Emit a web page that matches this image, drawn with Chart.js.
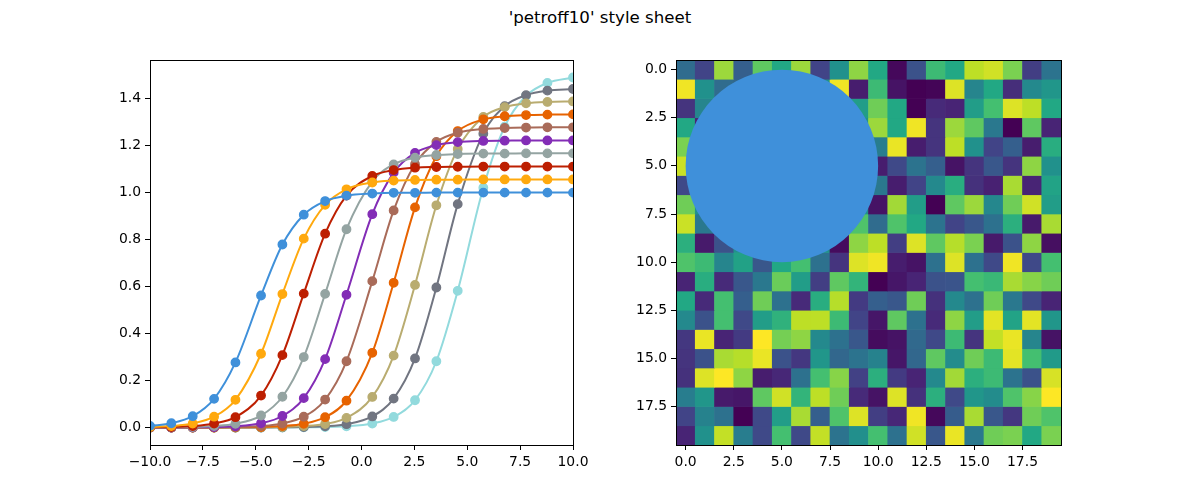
<!DOCTYPE html>
<html>
<head>
<meta charset="utf-8">
<script src="https://cdn.jsdelivr.net/npm/chart.js@4.4.1/dist/chart.umd.min.js"></script>
<style>
  body { margin: 0; background: #fff; }
  #wrap { position: relative; width: 1200px; height: 500px; font-family: "DejaVu Sans", sans-serif; }
  #title { position: absolute; top: 8px; left: 0; width: 1200px; text-align: center; font-size: 16.67px; color: #000; }
  #lines { position: absolute; left: 0; top: 0; }
  #image { position: absolute; left: 600px; top: 0; }
</style>
</head>
<body>
<div id="wrap">
  <div id="title">'petroff10' style sheet</div>
  <canvas id="lines" width="600" height="500"></canvas>
  <canvas id="image" width="600" height="500"></canvas>
</div>
<script>
// left panel: x positions of the markers, shared by all curves
const tVals = [-10, -8.99, -7.98, -6.97, -5.96, -4.75, -3.74, -2.73, -1.72, -0.71,
               0.51, 1.52, 2.53, 3.54, 4.55, 5.76, 6.77, 7.78, 8.79, 10];

const curve0 = [0.007, 0.018, 0.048, 0.122, 0.277, 0.562, 0.779, 0.906, 0.964, 0.987, 0.996, 0.999, 0.999, 1.0, 1.0, 1.0, 1.0, 1.0, 1.0, 1.0];
const curve1 = [0.002, 0.006, 0.017, 0.046, 0.118, 0.314, 0.568, 0.804, 0.948, 1.014, 1.043, 1.051, 1.054, 1.055, 1.055, 1.056, 1.056, 1.056, 1.056, 1.056];
const curve2 = [0.001, 0.002, 0.006, 0.017, 0.044, 0.136, 0.308, 0.570, 0.825, 0.987, 1.071, 1.096, 1.106, 1.109, 1.110, 1.111, 1.111, 1.111, 1.111, 1.111];
const curve3 = [0.0, 0.001, 0.002, 0.006, 0.016, 0.051, 0.131, 0.300, 0.569, 0.844, 1.047, 1.120, 1.149, 1.160, 1.164, 1.166, 1.166, 1.167, 1.167, 1.167];
const curve4 = [0.0, 0.0, 0.001, 0.002, 0.005, 0.018, 0.049, 0.125, 0.291, 0.565, 0.908, 1.085, 1.169, 1.202, 1.215, 1.220, 1.221, 1.222, 1.222, 1.222];
const curve5 = [0.0, 0.0, 0.0, 0.001, 0.002, 0.006, 0.017, 0.046, 0.119, 0.282, 0.623, 0.924, 1.121, 1.216, 1.255, 1.271, 1.275, 1.277, 1.278, 1.278];
const curve6 = [0.0, 0.0, 0.0, 0.0, 0.001, 0.002, 0.006, 0.016, 0.044, 0.114, 0.318, 0.616, 0.937, 1.155, 1.262, 1.312, 1.325, 1.330, 1.332, 1.333];
const curve7 = [0.0, 0.0, 0.0, 0.0, 0.0, 0.001, 0.002, 0.006, 0.015, 0.041, 0.130, 0.306, 0.607, 0.946, 1.186, 1.322, 1.364, 1.380, 1.386, 1.388];
const curve8 = [0.0, 0.0, 0.0, 0.0, 0.0, 0.0, 0.001, 0.002, 0.005, 0.014, 0.047, 0.123, 0.294, 0.596, 0.951, 1.251, 1.368, 1.415, 1.434, 1.441];
const curve9 = [0.0, 0.0, 0.0, 0.0, 0.0, 0.0, 0.0, 0.001, 0.002, 0.005, 0.017, 0.045, 0.116, 0.282, 0.582, 1.021, 1.281, 1.412, 1.467, 1.490];

const petroff10 = ['#3f90da', '#ffa90e', '#bd1f01', '#94a4a2', '#832db6',
                   '#a96b59', '#e76300', '#b9ac70', '#717581', '#92dadd'];

const lineXTicks = [-10, -7.5, -5, -2.5, 0, 2.5, 5, 7.5, 10];
const lineXLabels = ['\u221210.0', '\u22127.5', '\u22125.0', '\u22122.5', '0.0', '2.5', '5.0', '7.5', '10.0'];
const lineYTicks = [0, 0.2, 0.4, 0.6, 0.8, 1.0, 1.2, 1.4];
const lineYLabels = ['0.0', '0.2', '0.4', '0.6', '0.8', '1.0', '1.2', '1.4'];

// right panel: 20x20 image, row by row (cells under the circle are not visible, 0.5 there)
const row00 = [0.35, 0.2, 0.85, 0.3, 0.75, 0.6, 0.85, 0.2, 0.5, 0.83, 0.6, 0.02, 0.25, 0.68, 0.6, 0.9, 0.93, 0.8, 0.18, 0.38];
const row01 = [0.98, 0.5, 0.35, 0.33, 0.5, 0.5, 0.5, 0.5, 0.98, 0.08, 0.68, 0.05, 0.0, 0.01, 0.95, 0.45, 0.6, 0.13, 0.47, 0.52];
const row02 = [0.15, 0.45, 0.5, 0.5, 0.5, 0.5, 0.5, 0.5, 0.5, 0.55, 0.78, 0.6, 0.0, 0.12, 0.1, 0.55, 0.7, 0.95, 0.9, 0.6];
const row03 = [0.6, 0.1, 0.5, 0.5, 0.5, 0.5, 0.5, 0.5, 0.5, 0.5, 0.85, 0.6, 0.98, 0.15, 0.85, 0.75, 0.4, 0.0, 0.75, 0.1];
const row04 = [0.8, 0.5, 0.5, 0.5, 0.5, 0.5, 0.5, 0.5, 0.5, 0.5, 0.42, 0.97, 0.08, 0.15, 0.9, 0.5, 0.2, 0.3, 0.08, 0.62];
const row05 = [0.92, 0.5, 0.5, 0.5, 0.5, 0.5, 0.5, 0.5, 0.5, 0.5, 0.08, 0.22, 0.38, 0.3, 0.05, 0.15, 0.27, 0.15, 0.83, 0.5];
const row06 = [0.22, 0.5, 0.5, 0.5, 0.5, 0.5, 0.5, 0.5, 0.5, 0.5, 0.4, 0.08, 0.2, 0.47, 0.62, 0.14, 0.09, 0.87, 0.1, 0.58];
const row07 = [0.78, 0.5, 0.5, 0.5, 0.5, 0.5, 0.5, 0.5, 0.5, 0.5, 0.05, 0.86, 0.55, 0.0, 0.75, 0.85, 0.46, 0.78, 0.93, 0.55];
const row08 = [0.92, 0.4, 0.5, 0.5, 0.5, 0.5, 0.5, 0.5, 0.5, 0.72, 0.35, 0.72, 0.6, 0.38, 0.2, 0.27, 0.37, 0.63, 0.07, 0.87];
const row09 = [0.63, 0.07, 0.25, 0.5, 0.5, 0.5, 0.5, 0.5, 0.03, 0.83, 0.9, 0.18, 0.95, 0.75, 0.89, 0.8, 0.07, 0.25, 0.83, 0.04];
const row10 = [0.72, 0.68, 0.45, 0.57, 0.27, 0.6, 0.7, 0.37, 0.15, 0.95, 0.98, 0.08, 0.05, 0.37, 0.95, 0.37, 0.22, 0.98, 0.22, 0.7];
const row11 = [0.1, 0.62, 0.12, 0.27, 0.4, 0.77, 0.55, 0.18, 0.75, 0.65, 0.0, 0.06, 0.1, 0.25, 0.26, 0.7, 0.67, 0.87, 0.82, 0.78];
const row12 = [0.6, 0.12, 0.7, 0.3, 0.78, 0.37, 0.12, 0.62, 0.89, 0.17, 0.3, 0.27, 0.78, 0.14, 0.47, 0.37, 0.78, 0.4, 0.22, 0.1];
const row13 = [0.47, 0.25, 0.7, 0.22, 0.55, 0.64, 0.9, 0.9, 0.68, 0.2, 0.06, 0.75, 0.37, 0.12, 0.83, 0.55, 0.96, 0.58, 0.96, 0.52];
const row14 = [0.16, 0.97, 0.1, 0.17, 1.0, 0.79, 0.83, 0.47, 0.37, 0.27, 0.03, 0.05, 0.34, 0.22, 0.68, 0.15, 0.91, 0.97, 0.45, 0.05];
const row15 = [0.15, 0.25, 0.87, 0.89, 0.97, 0.25, 0.16, 0.52, 0.33, 0.38, 0.44, 0.06, 0.33, 0.75, 0.48, 0.78, 0.68, 0.96, 0.7, 0.54];
const row16 = [0.14, 0.95, 1.0, 0.83, 0.08, 0.11, 0.37, 0.7, 0.82, 0.19, 0.63, 0.17, 0.1, 0.47, 0.86, 0.63, 0.68, 0.38, 0.25, 0.94];
const row17 = [0.42, 0.52, 0.07, 0.06, 0.75, 0.93, 0.65, 0.9, 0.78, 0.12, 0.05, 0.95, 0.14, 0.63, 0.22, 0.52, 0.48, 0.72, 0.82, 1.0];
const row18 = [0.2, 0.44, 0.37, 0.0, 0.22, 0.55, 0.87, 0.3, 0.72, 0.95, 0.18, 0.11, 0.98, 0.02, 0.29, 0.87, 0.27, 0.16, 0.78, 0.72];
const row19 = [0.1, 0.5, 0.91, 0.42, 0.22, 0.7, 0.22, 0.91, 0.38, 0.49, 0.7, 0.37, 0.93, 0.27, 0.97, 0.4, 0.78, 0.8, 0.6, 0.8];

const circleCenter = [5, 5];
const circleRadius = 5;

const imgTicks = [0, 2.5, 5, 7.5, 10, 12.5, 15, 17.5];
const imgLabels = ['0.0', '2.5', '5.0', '7.5', '10.0', '12.5', '15.0', '17.5'];

// ---------------------------------------------------------------

const viridisStops = ['#440154', '#482475', '#414487', '#355f8d', '#2a788e', '#21918c',
                      '#22a884', '#44bf70', '#7ad151', '#bddf26', '#fde725'];

function hexRgb(h) {
  return [parseInt(h.slice(1, 3), 16), parseInt(h.slice(3, 5), 16), parseInt(h.slice(5, 7), 16)];
}

function viridis(v) {
  v = Math.min(1, Math.max(0, v));
  const p = v * (viridisStops.length - 1);
  const i = Math.min(Math.floor(p), viridisStops.length - 2);
  const f = p - i;
  const a = hexRgb(viridisStops[i]), b = hexRgb(viridisStops[i + 1]);
  const c = a.map((x, k) => Math.round(x + (b[k] - x) * f));
  return 'rgb(' + c.join(',') + ')';
}

Chart.defaults.font.family = '"DejaVu Sans", sans-serif';
Chart.defaults.color = '#000';

// black box round the axes, like matplotlib spines
const frame = {
  id: 'frame',
  afterDraw(chart) {
    const { ctx, chartArea: a } = chart;
    ctx.save();
    ctx.strokeStyle = '#000';
    ctx.lineWidth = 1;
    ctx.strokeRect(a.left + 0.5, a.top + 0.5, a.right - a.left, a.bottom - a.top);
    ctx.restore();
  }
};

function axis(min, max, tickVals, tickLabels, extra) {
  return Object.assign({
    type: 'linear',
    min: min,
    max: max,
    offset: false,
    afterBuildTicks: s => { s.ticks = tickVals.map(v => ({ value: v })); },
    ticks: {
      callback: (v, i) => tickLabels[i],
      color: '#000',
      font: { size: 13.9 },
      padding: 4,
      autoSkip: false,
      maxRotation: 0
    },
    grid: { display: true, offset: false, drawOnChartArea: false, drawTicks: true, tickLength: 5, color: '#000', lineWidth: 1 },
    border: { display: false }
  }, extra);
}

const curves = [curve0, curve1, curve2, curve3, curve4, curve5, curve6, curve7, curve8, curve9];

new Chart(document.getElementById('lines'), {
  type: 'line',
  data: {
    datasets: curves.map((c, k) => ({
      data: tVals.map((t, i) => ({ x: t, y: c[i] })),
      borderColor: petroff10[k],
      backgroundColor: petroff10[k],
      borderWidth: 2,
      cubicInterpolationMode: 'monotone',
      pointRadius: 4.2,
      pointBorderWidth: 1.4,
      pointBorderColor: petroff10[k],
      pointBackgroundColor: petroff10[k]
    }))
  },
  options: {
    responsive: false,
    animation: false,
    devicePixelRatio: 1,
    layout: { padding: { left: 100, right: 27, top: 60, bottom: 15 } },
    plugins: { legend: { display: false }, tooltip: { enabled: false } },
    scales: {
      x: axis(-10, 10, lineXTicks, lineXLabels, { afterFit: s => { s.height = 40; } }),
      y: axis(-0.0745, 1.5645, lineYTicks, lineYLabels, { afterFit: s => { s.width = 50; } })
    }
  },
  plugins: [frame]
});

const rows = [row00, row01, row02, row03, row04, row05, row06, row07, row08, row09,
              row10, row11, row12, row13, row14, row15, row16, row17, row18, row19];

const cellSets = rows.map((row, r) => ({
  type: 'bar',
  data: row.map((v, c) => ({ x: c, y: [r - 0.5, r + 0.5] })),
  backgroundColor: row.map(viridis),
  borderWidth: 0,
  grouped: false,
  barPercentage: 1,
  categoryPercentage: 1,
  order: 2
}));

cellSets.push({
  type: 'scatter',
  data: [{ x: circleCenter[0], y: circleCenter[1] }],
  backgroundColor: '#3f90da',
  borderWidth: 0,
  pointRadius: ctx => {
    const sx = ctx.chart.scales.x;
    return Math.abs(sx.getPixelForValue(circleRadius) - sx.getPixelForValue(0));
  },
  order: 0
});

new Chart(document.getElementById('image'), {
  type: 'bar',
  data: { datasets: cellSets },
  options: {
    responsive: false,
    animation: false,
    devicePixelRatio: 1,
    layout: { padding: { left: 26, right: 139, top: 60, bottom: 15 } },
    plugins: { legend: { display: false }, tooltip: { enabled: false } },
    scales: {
      x: axis(-0.5, 19.5, imgTicks, imgLabels, { afterFit: s => { s.height = 40; } }),
      y: axis(-0.5, 19.5, imgTicks, imgLabels, { reverse: true, afterFit: s => { s.width = 50; } })
    }
  },
  plugins: [frame]
});
</script>
</body>
</html>
